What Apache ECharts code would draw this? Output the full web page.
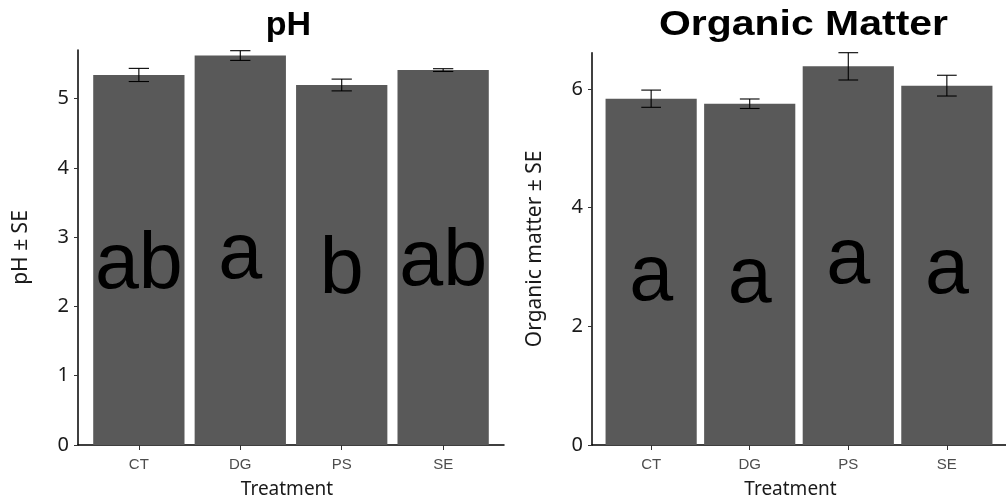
<!DOCTYPE html>
<html>
<head>
<meta charset="utf-8">
<script src="https://cdn.jsdelivr.net/npm/echarts@6/dist/echarts.min.js"></script>
<style>
html,body{margin:0;padding:0;background:#fff;}
#chart{width:1006px;height:504px;}
</style>
</head>
<body>
<div id="chart"></div>
<script>
// ---- data ----
var categories = ['CT', 'DG', 'PS', 'SE'];
var phMean = [5.34, 5.62, 5.195, 5.41];
var phSE = [0.095, 0.07, 0.085, 0.02];
var phLetters = ['ab', 'a', 'b', 'ab'];
var omMean = [5.835, 5.75, 6.38, 6.055];
var omSE = [0.145, 0.08, 0.23, 0.175];
var omLetters = ['a', 'a', 'a', 'a'];
var phTicks = [0, 1, 2, 3, 4, 5];
var omTicks = [0, 2, 4, 6];

var grids = [
  {left: 78, top: 50, width: 426, height: 397},
  {left: 592, top: 52.7, width: 425.5, height: 396.6}
];
function catPx(g) { return g.width / 4.2; }

function xAx(gi, nameShift) {
  return {
    type: 'value', gridIndex: gi, min: 0.4, max: 4.6,
    name: 'Treatment', nameLocation: 'middle', nameGap: 35,
    nameTextStyle: {fontFamily: 'Noto Sans', fontSize: 19, color: '#1a1a1a', padding: [0, nameShift, 0, 0]},
    axisLine: {show: true, lineStyle: {color: '#000', width: 1.5}},
    axisTick: {show: true, customValues: [1, 2, 3, 4], length: 5, lineStyle: {color: '#333', width: 1}},
    axisLabel: {customValues: [1, 2, 3, 4], formatter: function (v) { return categories[Math.round(v) - 1]; },
      fontFamily: 'Liberation Sans', fontSize: 15, color: '#4d4d4d', margin: 12},
    splitLine: {show: false}
  };
}
function yAx(gi, max, ticks, name, gap) {
  return {
    type: 'value', gridIndex: gi, min: 0, max: max,
    name: name, nameLocation: 'middle', nameGap: gap, nameRotate: 90,
    nameTextStyle: {fontFamily: 'Noto Sans', fontSize: 21, color: '#1a1a1a'},
    axisLine: {show: true, lineStyle: {color: '#000', width: 1.5}},
    axisTick: {show: true, customValues: ticks, length: 4, lineStyle: {color: '#333', width: 1}},
    axisLabel: {customValues: ticks, fontFamily: 'Noto Sans', fontSize: 20, color: '#1a1a1a', margin: 9},
    splitLine: {show: false}
  };
}
function barSeries(gi, means, letters) {
  return {
    type: 'bar', xAxisIndex: gi, yAxisIndex: gi,
    data: means.map(function (m, i) { return [i + 1, m]; }),
    barWidth: catPx(grids[gi]) * 0.9,
    itemStyle: {color: '#595959'},
    label: {show: true, position: 'inside', offset: [0, 6],
      formatter: function (p) { return letters[p.dataIndex]; },
      fontFamily: 'Liberation Sans', fontSize: 79, color: '#000'},
    silent: true, animation: false
  };
}
function errSeries(gi, means, ses) {
  return {
    type: 'custom', xAxisIndex: gi, yAxisIndex: gi,
    data: means.map(function (m, i) { return [i + 1, m - ses[i], m + ses[i]]; }),
    renderItem: function (params, api) {
      var x = api.value(0), lo = api.value(1), hi = api.value(2);
      var pLo = api.coord([x, lo]), pHi = api.coord([x, hi]);
      var l = api.coord([x - 0.1, hi])[0], r = api.coord([x + 0.1, hi])[0];
      var st = {stroke: '#000', lineWidth: 1.1};
      return {type: 'group', children: [
        {type: 'line', shape: {x1: pLo[0], y1: pLo[1], x2: pHi[0], y2: pHi[1]}, style: st},
        {type: 'line', shape: {x1: l, y1: pHi[1], x2: r, y2: pHi[1]}, style: st},
        {type: 'line', shape: {x1: l, y1: pLo[1], x2: r, y2: pLo[1]}, style: st}
      ]};
    },
    z: 5, silent: true, animation: false
  };
}

var chart = echarts.init(document.getElementById('chart'), null, {renderer: 'canvas'});
chart.setOption({
  animation: false,
  backgroundColor: '#fff',
  grid: grids.map(function (g) { return {left: g.left, top: g.top, width: g.width, height: g.height, containLabel: false}; }),
  xAxis: [xAx(0, 8), xAx(1, 17)],
  yAxis: [yAx(0, 5.7, phTicks, 'pH ± SE', 46), yAx(1, 6.61, omTicks, 'Organic matter ± SE', 46)],
  graphic: [
    {type: 'text', x: 288.5, y: 26, style: {text: 'pH', font: 'bold 34px "Liberation Sans"', fill: '#000', align: 'center', verticalAlign: 'middle'}},
    {type: 'text', x: 803.5, y: 25.5, scaleX: 1.17, style: {text: 'Organic Matter', font: 'bold 35px "Liberation Sans"', fill: '#000', align: 'center', verticalAlign: 'middle'}}
  ],
  series: [
    barSeries(0, phMean, phLetters), errSeries(0, phMean, phSE),
    barSeries(1, omMean, omLetters), errSeries(1, omMean, omSE)
  ]
});
</script>
</body>
</html>
